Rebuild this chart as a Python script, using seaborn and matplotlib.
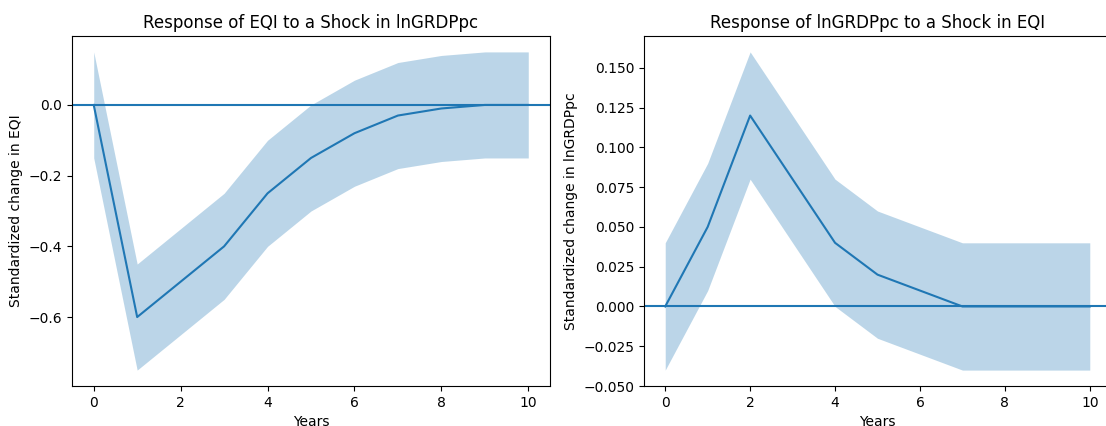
import numpy as np
import pandas as pd
import matplotlib
matplotlib.use("Agg")
import matplotlib.pyplot as plt
import seaborn as sns

# impulse response data
years = list(range(11))

eqi_irf = [0, -0.6, -0.5, -0.4, -0.25, -0.15, -0.08, -0.03, -0.01, 0, 0]
eqi_upper = [0.15, -0.45, -0.35, -0.25, -0.10, 0.0, 0.07, 0.12, 0.14, 0.15, 0.15]
eqi_lower = [-0.15, -0.75, -0.65, -0.55, -0.40, -0.30, -0.23, -0.18, -0.16, -0.15, -0.15]

gdp_irf = [0, 0.05, 0.12, 0.08, 0.04, 0.02, 0.01, 0, 0, 0, 0]
gdp_upper = [0.04, 0.09, 0.16, 0.12, 0.08, 0.06, 0.05, 0.04, 0.04, 0.04, 0.04]
gdp_lower = [-0.04, 0.01, 0.08, 0.04, 0.0, -0.02, -0.03, -0.04, -0.04, -0.04, -0.04]

panels = [
    ("Response of EQI to a Shock in lnGRDPpc", "Standardized change in EQI",
     eqi_irf, eqi_lower, eqi_upper),
    ("Response of lnGRDPpc to a Shock in EQI", "Standardized change in lnGRDPpc",
     gdp_irf, gdp_lower, gdp_upper),
]

fig = plt.figure(figsize=(11.06, 4.26), dpi=100)
ax1 = fig.add_axes([72 / 1106, 40 / 426, 478 / 1106, 350 / 426])
ax2 = fig.add_axes([644 / 1106, 40 / 426, 467 / 1106, 350 / 426])

color = "#1f77b4"
for ax, (title, ylabel, irf, lo, hi) in zip([ax1, ax2], panels):
    df = pd.DataFrame({"Years": years, "irf": irf, "lo": lo, "hi": hi})
    ax.fill_between(df["Years"], df["lo"], df["hi"], color=color, alpha=0.3, linewidth=0)
    sns.lineplot(data=df, x="Years", y="irf", ax=ax, color=color)
    ax.axhline(0, color=color)
    ax.set_title(title, fontsize=12)
    ax.set_xlabel("Years")
    ax.set_ylabel(ylabel)
    ax.set_xticks([0, 2, 4, 6, 8, 10])

fig.savefig("out.png", dpi=100)
